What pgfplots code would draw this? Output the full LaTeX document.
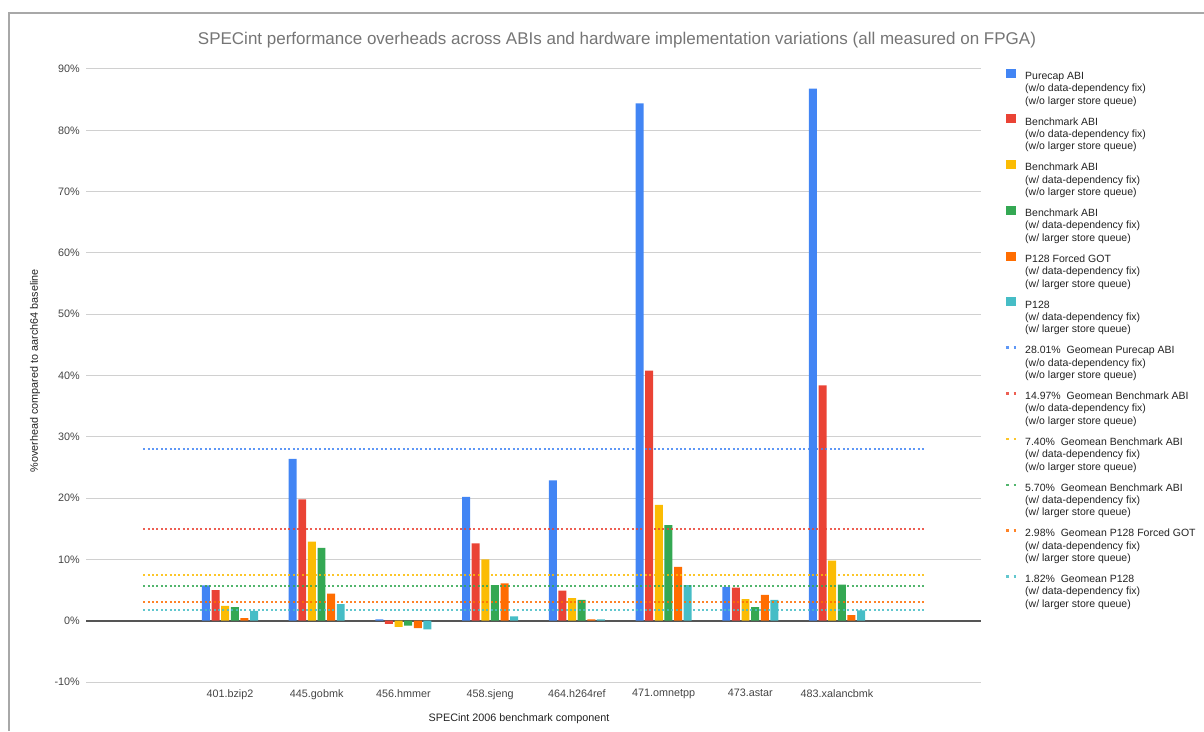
\documentclass[border=0pt]{standalone}
\usepackage{pgfplots}
\pgfplotsset{compat=1.18}
\usepackage{fontspec}
\setmainfont{Liberation Sans}
\definecolor{cBlue}{HTML}{4285F4}
\definecolor{cRed}{HTML}{EA4335}
\definecolor{cYellow}{HTML}{FBBC04}
\definecolor{cGreen}{HTML}{34A853}
\definecolor{cOrange}{HTML}{FF6D01}
\definecolor{cCyan}{HTML}{46BDC6}
\definecolor{titlegray}{HTML}{757575}
\definecolor{ticktext}{HTML}{444444}
\definecolor{labeltext}{HTML}{222222}
\definecolor{gridgray}{HTML}{D0D0D0}
\definecolor{zerogray}{HTML}{555555}
\definecolor{framegray}{HTML}{A8A8A8}
% continuation lines of a legend entry, plus a spacer row
\newcommand{\more}[2]{%
  \addlegendimage{empty legend}\addlegendentry{#1}%
  \addlegendimage{empty legend}\addlegendentry{#2}%
  \addlegendimage{empty legend}\addlegendentry[text height=3.0pt]{}}
\begin{document}
\begin{tikzpicture}[x=1pt,y=1pt]
\useasboundingbox (0,0) rectangle (1204,731);
\draw[color=framegray, line width=1.2pt] (9,0) -- (9,718) -- (1204,718);
\node[text=titlegray, font=\fontsize{17}{20}\selectfont, inner sep=0pt] at (617,691) {SPECint performance overheads across ABIs and hardware implementation variations (all measured on FPGA)};
\begin{axis}[
  at={(86pt,49pt)}, anchor=south west,
  scale only axis, width=895pt, height=613pt,
  xmin=-0.66, xmax=9.66, ymin=-10, ymax=90,
  axis line style={draw=none},
  major tick style={draw=none},
  ytick={-10,0,10,20,30,40,50,60,70,80,90},
  yticklabel={\pgfmathprintnumber{\tick}\%},
  ymajorgrids,
  grid style={color=gridgray, line width=1pt},
  extra y ticks={0},
  extra y tick labels={},
  extra y tick style={grid style={color=zerogray, line width=1.6pt}},
  xtick={1,2,3,4,5,6,7,8},
  xticklabels={401.bzip2,445.gobmk,456.hmmer,458.sjeng,464.h264ref,471.omnetpp,473.astar,483.xalancbmk},
  yticklabel style={anchor=east, inner sep=0pt, xshift=-6pt, text=ticktext, font=\fontsize{10.8}{12}\selectfont},
  xticklabel style={anchor=north, inner sep=0pt, yshift=-7pt, text=ticktext, font=\fontsize{10.8}{12}\selectfont},
  /pgf/number format/assume math mode=true,
  ylabel={\%overhead compared to aarch64 baseline},
  ylabel style={at={(axis description cs:-0.057,0.508)}, anchor=center, inner sep=0pt, text=labeltext, font=\fontsize{10.8}{12}\selectfont},
  xlabel={SPECint 2006 benchmark component},
  xlabel style={at={(axis description cs:0.4838,-0.060)}, anchor=center, inner sep=0pt, text=labeltext, font=\fontsize{10.8}{12}\selectfont},
  legend cell align=left,
  legend style={draw=none, fill=none, at={(axis description cs:1.0268,1.0005)}, anchor=north west,
    inner sep=0pt, outer sep=0pt, row sep=0pt, column sep=7.7pt,
    nodes={inner sep=0pt, outer sep=0pt, text=labeltext, text height=8.6pt, text depth=3.7pt},
    font=\fontsize{10.5}{12.3}\selectfont},
  every axis plot/.append style={bar width=0.092},
]
\pgfplotsset{
  barleg/.style={legend image code/.code={\path[draw=none,fill=none] (0pt,-3.4pt) rectangle (10pt,8.3pt); \fill[##1] (0pt,-0.7pt) rectangle (10pt,8.3pt);}},
  lineleg/.style={legend image code/.code={\path[draw=none,fill=none] (0pt,-3.4pt) rectangle (10pt,8.3pt); \draw[##1, line width=2.5pt, dash pattern=on 2.5pt off 5pt] (0pt,3.8pt) -- (10pt,3.8pt);}},
}
\addplot[ybar, bar shift=-0.2775, fill=cBlue, draw=none, barleg] coordinates {(1,5.75) (2,26.4) (3,0.2) (4,20.2) (5,22.9) (6,84.4) (7,5.5) (8,86.8)};
\addlegendentry{Purecap ABI}\more{(w/o data-dependency fix)}{(w/o larger store queue)}
\addplot[ybar, bar shift=-0.1665, fill=cRed, draw=none, barleg] coordinates {(1,5.0) (2,19.8) (3,-0.5) (4,12.6) (5,4.9) (6,40.8) (7,5.4) (8,38.4)};
\addlegendentry{Benchmark ABI}\more{(w/o data-dependency fix)}{(w/o larger store queue)}
\addplot[ybar, bar shift=-0.0555, fill=cYellow, draw=none, barleg] coordinates {(1,2.4) (2,12.9) (3,-1.0) (4,10.0) (5,3.7) (6,18.9) (7,3.5) (8,9.8)};
\addlegendentry{Benchmark ABI}\more{(w/ data-dependency fix)}{(w/o larger store queue)}
\addplot[ybar, bar shift=0.0555, fill=cGreen, draw=none, barleg] coordinates {(1,2.2) (2,11.9) (3,-0.8) (4,5.8) (5,3.4) (6,15.6) (7,2.2) (8,5.9)};
\addlegendentry{Benchmark ABI}\more{(w/ data-dependency fix)}{(w/ larger store queue)}
\addplot[ybar, bar shift=0.1665, fill=cOrange, draw=none, barleg] coordinates {(1,0.4) (2,4.4) (3,-1.2) (4,6.1) (5,0.2) (6,8.8) (7,4.2) (8,0.9)};
\addlegendentry{P128 Forced GOT}\more{(w/ data-dependency fix)}{(w/ larger store queue)}
\addplot[ybar, bar shift=0.2775, fill=cCyan, draw=none, barleg] coordinates {(1,1.6) (2,2.7) (3,-1.4) (4,0.7) (5,0.2) (6,5.8) (7,3.4) (8,1.7)};
\addlegendentry{P128}\more{(w/ data-dependency fix)}{(w/ larger store queue)}
\pgfplotsset{dotline/.style={line width=2pt, dash pattern=on 2pt off 2.4pt, opacity=0.85, mark=none, lineleg}}
\addplot[cBlue, dotline] coordinates {(0,28.01) (9,28.01)};
\addlegendentry{28.01\%\ \ Geomean Purecap ABI}\more{(w/o data-dependency fix)}{(w/o larger store queue)}
\addplot[cRed, dotline] coordinates {(0,14.97) (9,14.97)};
\addlegendentry{14.97\%\ \ Geomean Benchmark ABI}\more{(w/o data-dependency fix)}{(w/o larger store queue)}
\addplot[cYellow, dotline] coordinates {(0,7.40) (9,7.40)};
\addlegendentry{7.40\%\ \ Geomean Benchmark ABI}\more{(w/ data-dependency fix)}{(w/o larger store queue)}
\addplot[cGreen, dotline] coordinates {(0,5.70) (9,5.70)};
\addlegendentry{5.70\%\ \ Geomean Benchmark ABI}\more{(w/ data-dependency fix)}{(w/ larger store queue)}
\addplot[cOrange, dotline] coordinates {(0,2.98) (9,2.98)};
\addlegendentry{2.98\%\ \ Geomean P128 Forced GOT}\more{(w/ data-dependency fix)}{(w/ larger store queue)}
\addplot[cCyan, dotline] coordinates {(0,1.82) (9,1.82)};
\addlegendentry{1.82\%\ \ Geomean P128}\more{(w/ data-dependency fix)}{(w/ larger store queue)}
\end{axis}
\end{tikzpicture}
\end{document}
